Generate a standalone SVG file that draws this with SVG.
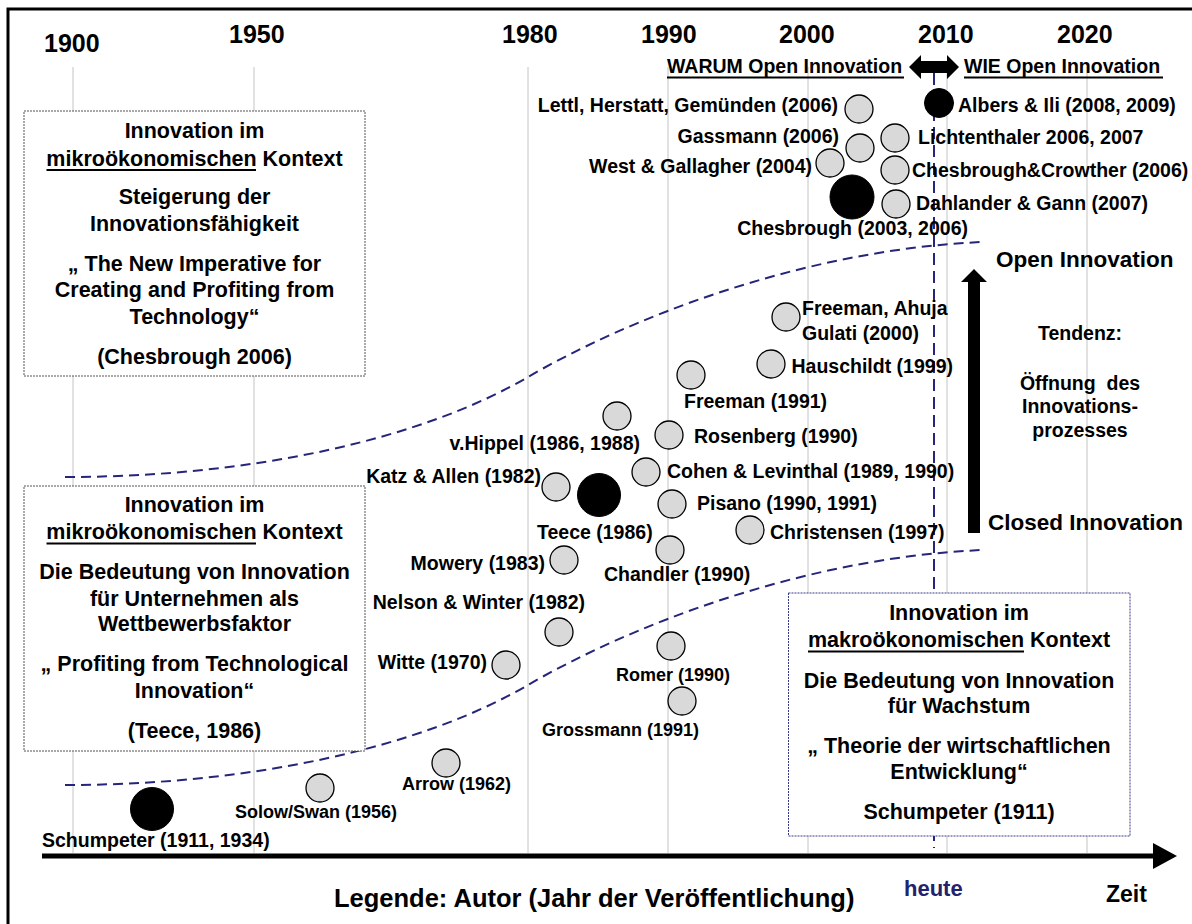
<svg xmlns="http://www.w3.org/2000/svg" width="1192" height="924" viewBox="0 0 1192 924">
  <defs>
    <style>
      text { font-family: "Liberation Sans", Arial, sans-serif; font-weight: bold; fill: #000; }
      .yr { font-size: 25px; }
      .lb { font-size: 19.5px; }
      .sm { font-size: 18px; }
      .bx { font-size: 21.5px; text-anchor: middle; }
      .big { font-size: 22.5px; }
      .tz { font-size: 19.5px; text-anchor: middle; }
      .end { text-anchor: end; }
      .grid { stroke: #c4c4c4; stroke-width: 1; }
      .curve { fill: none; stroke: #25257a; stroke-width: 2; stroke-dasharray: 10 6; }
      .box { fill: #fff; stroke: #555; stroke-width: 1; stroke-dasharray: 2 1; }
      .boxm { fill: #fff; stroke: #3a3a8a; stroke-width: 1; stroke-dasharray: 2 1; }
      .c { fill: #d9d9d9; stroke: #000; stroke-width: 1.3; }
      .cb { fill: #000; stroke: #000; stroke-width: 1; }
      .ul { stroke: #000; stroke-width: 2; }
    </style>
    <path id="sCurve" d="M65,477 C250,477 420,440 528,377 C626,320 800,250 982,242"/>
  </defs>

  <rect x="0" y="0" width="1192" height="924" fill="#fff"/>
  <!-- outer frame -->
  <rect x="8" y="9" width="1200" height="930" fill="none" stroke="#000" stroke-width="3"/>

  <!-- year grid -->
  <g id="grid">
    <line class="grid" x1="73" y1="67" x2="73" y2="853"/>
    <line class="grid" x1="254" y1="67" x2="254" y2="853"/>
    <line class="grid" x1="528" y1="67" x2="528" y2="853"/>
    <line class="grid" x1="668" y1="67" x2="668" y2="853"/>
    <line class="grid" x1="808" y1="67" x2="808" y2="853"/>
    <line class="grid" x1="947" y1="73" x2="947" y2="853"/>
    <line class="grid" x1="1087" y1="67" x2="1087" y2="853"/>
    <text class="yr" x="44" y="52">1900</text>
    <text class="yr" x="229" y="43">1950</text>
    <text class="yr" x="502" y="43">1980</text>
    <text class="yr" x="641" y="43">1990</text>
    <text class="yr" x="779" y="43">2000</text>
    <text class="yr" x="918" y="43">2010</text>
    <text class="yr" x="1057" y="43">2020</text>
  </g>

  <!-- connectors: corridor curves, today marker, axis, arrows -->
  <g id="connectors">
    <use href="#sCurve" class="curve"/>
    <use href="#sCurve" class="curve" transform="translate(0,308)"/>
    <line x1="934" y1="73" x2="934" y2="848" stroke="#25257a" stroke-width="2" stroke-dasharray="12 6"/>
    <line x1="42" y1="856" x2="1155" y2="856" stroke="#000" stroke-width="5"/>
    <polygon points="1153,843 1177,856 1153,869" fill="#000"/>
    <polygon points="909,67 921,55 921,61 947,61 947,55 959,67 947,79 947,73 921,73 921,79" fill="#000"/>
    <polygon points="968,533 968,282 961,282 974,269 987,282 980,282 980,533" fill="#000"/>
  </g>

  <!-- context boxes -->
  <g id="box-chesbrough">
    <rect class="box" x="24" y="111" width="341" height="265"/>
    <text class="bx" x="194.5" y="138">Innovation im</text>
    <text class="bx" x="194.5" y="165.5">mikroökonomischen Kontext</text>
    <line class="ul" x1="46.5" y1="170" x2="256" y2="170"/>
    <text class="bx" x="194.5" y="204">Steigerung der</text>
    <text class="bx" x="194.5" y="230.5">Innovationsfähigkeit</text>
    <text class="bx" x="194.5" y="270.5">„ The New Imperative for</text>
    <text class="bx" x="194.5" y="296.5">Creating and Profiting from</text>
    <text class="bx" x="194.5" y="324">Technology“</text>
    <text class="bx" x="194.5" y="364">(Chesbrough 2006)</text>
  </g>
  <g id="box-teece">
    <rect class="box" x="24" y="486" width="341" height="265"/>
    <text class="bx" x="194.5" y="512">Innovation im</text>
    <text class="bx" x="194.5" y="539">mikroökonomischen Kontext</text>
    <line class="ul" x1="46.5" y1="543.5" x2="256" y2="543.5"/>
    <text class="bx" x="194.5" y="579">Die Bedeutung von Innovation</text>
    <text class="bx" x="194.5" y="605.5">für Unternehmen als</text>
    <text class="bx" x="194.5" y="631">Wettbewerbsfaktor</text>
    <text class="bx" x="194.5" y="671">„ Profiting from Technological</text>
    <text class="bx" x="194.5" y="698">Innovation“</text>
    <text class="bx" x="194.5" y="738">(Teece, 1986)</text>
  </g>
  <g id="box-schumpeter">
    <rect class="boxm" x="788.5" y="593" width="341.5" height="243"/>
    <text class="bx" x="959" y="620">Innovation im</text>
    <text class="bx" x="959" y="647">makroökonomischen Kontext</text>
    <line class="ul" x1="808" y1="651.5" x2="1024" y2="651.5"/>
    <text class="bx" x="959" y="687.5">Die Bedeutung von Innovation</text>
    <text class="bx" x="959" y="713">für Wachstum</text>
    <text class="bx" x="959" y="752.5">„ Theorie der wirtschaftlichen</text>
    <text class="bx" x="959" y="779">Entwicklung“</text>
    <text class="bx" x="959" y="819">Schumpeter (1911)</text>
  </g>

  <!-- phase headings -->
  <g id="phase-warum">
    <text class="lb" x="667" y="73">WARUM Open Innovation</text>
    <line class="ul" x1="667" y1="77.5" x2="904" y2="77.5"/>
  </g>
  <g id="phase-wie">
    <text class="lb" x="964" y="73">WIE Open Innovation</text>
    <line class="ul" x1="964" y1="77.5" x2="1163" y2="77.5"/>
  </g>

  <!-- trend -->
  <g id="trend">
    <text class="big" x="996" y="267">Open Innovation</text>
    <text class="big" x="988" y="530">Closed Innovation</text>
    <text class="tz" x="1080" y="340">Tendenz:</text>
    <text class="tz" x="1080" y="390">Öffnung&#160; des</text>
    <text class="tz" x="1080" y="413">Innovations-</text>
    <text class="tz" x="1080" y="437">prozesses</text>
  </g>

  <!-- authors -->
  <g id="lettl"><circle class="c" cx="859" cy="109" r="14"/><text class="lb end" x="838" y="112">Lettl, Herstatt, Gemünden (2006)</text></g>
  <g id="gassmann"><circle class="c" cx="860" cy="148" r="14"/><text class="lb end" x="839" y="143">Gassmann (2006)</text></g>
  <g id="west-gallagher"><circle class="c" cx="830" cy="163" r="14"/><text class="lb end" x="812" y="173">West &amp; Gallagher (2004)</text></g>
  <g id="chesbrough"><circle class="cb" cx="852" cy="197" r="22"/><text class="lb end" x="968" y="235">Chesbrough (2003, 2006)</text></g>
  <g id="lichtenthaler"><circle class="c" cx="895" cy="138" r="14"/><text class="lb" x="918" y="144">Lichtenthaler 2006, 2007</text></g>
  <g id="chesbrough-crowther"><circle class="c" cx="895" cy="170" r="14"/><text class="lb" x="912" y="177">Chesbrough&amp;Crowther (2006)</text></g>
  <g id="dahlander-gann"><circle class="c" cx="896" cy="204" r="14"/><text class="lb" x="916" y="210">Dahlander &amp; Gann (2007)</text></g>
  <g id="albers-ili"><circle class="cb" cx="939" cy="103" r="14.5"/><text class="lb" x="958" y="112">Albers &amp; Ili (2008, 2009)</text></g>

  <g id="freeman-ahuja"><circle class="c" cx="786" cy="317" r="14"/><text class="lb" x="802" y="315">Freeman, Ahuja</text><text class="lb" x="802" y="340">Gulati (2000)</text></g>
  <g id="hauschildt"><circle class="c" cx="771" cy="364" r="14"/><text class="lb" x="791.5" y="373">Hauschildt (1999)</text></g>
  <g id="freeman"><circle class="c" cx="691" cy="375" r="14"/><text class="lb" x="684" y="408">Freeman (1991)</text></g>
  <g id="vhippel"><circle class="c" cx="617" cy="416" r="14"/><text class="lb end" x="640" y="450">v.Hippel (1986, 1988)</text></g>
  <g id="rosenberg"><circle class="c" cx="669" cy="435" r="14"/><text class="lb" x="694" y="443">Rosenberg (1990)</text></g>
  <g id="cohen-levinthal"><circle class="c" cx="646" cy="472" r="14"/><text class="lb" x="667" y="478">Cohen &amp; Levinthal (1989, 1990)</text></g>
  <g id="katz-allen"><circle class="c" cx="556" cy="487" r="14"/><text class="lb end" x="541" y="483">Katz &amp; Allen (1982)</text></g>
  <g id="teece"><circle class="cb" cx="599" cy="495" r="21.5"/><text class="lb" x="537" y="539">Teece (1986)</text></g>
  <g id="pisano"><circle class="c" cx="672" cy="504" r="14"/><text class="lb" x="697" y="510">Pisano (1990, 1991)</text></g>
  <g id="christensen"><circle class="c" cx="750" cy="530" r="14"/><text class="lb" x="770" y="539">Christensen (1997)</text></g>
  <g id="chandler"><circle class="c" cx="670" cy="550" r="14"/><text class="lb" x="604" y="581">Chandler (1990)</text></g>
  <g id="mowery"><circle class="c" cx="564" cy="560" r="14"/><text class="lb end" x="545" y="570">Mowery (1983)</text></g>
  <g id="nelson-winter"><circle class="c" cx="559" cy="632" r="14"/><text class="lb end" x="585" y="609">Nelson &amp; Winter (1982)</text></g>
  <g id="witte"><circle class="c" cx="506" cy="665" r="14"/><text class="lb end" x="487" y="669">Witte (1970)</text></g>
  <g id="romer"><circle class="c" cx="671" cy="646" r="14"/><text class="sm" x="616" y="681">Romer (1990)</text></g>
  <g id="grossmann"><circle class="c" cx="682" cy="701" r="14"/><text class="sm" x="542" y="736">Grossmann (1991)</text></g>
  <g id="arrow"><circle class="c" cx="446" cy="763" r="14"/><text class="sm" x="402" y="790">Arrow (1962)</text></g>
  <g id="solow-swan"><circle class="c" cx="320" cy="788" r="14"/><text class="sm" x="235" y="818">Solow/Swan (1956)</text></g>
  <g id="schumpeter"><circle class="cb" cx="152" cy="809" r="21.5"/><text class="lb" x="42" y="847">Schumpeter (1911, 1934)</text></g>

  <!-- axis captions -->
  <g id="captions">
    <text x="334" y="907" style="font-size:25.5px">Legende: Autor (Jahr der Veröffentlichung)</text>
    <text x="904" y="896" style="font-size:22px;fill:#22226e">heute</text>
    <text x="1106" y="902" style="font-size:23px">Zeit</text>
  </g>
</svg>
